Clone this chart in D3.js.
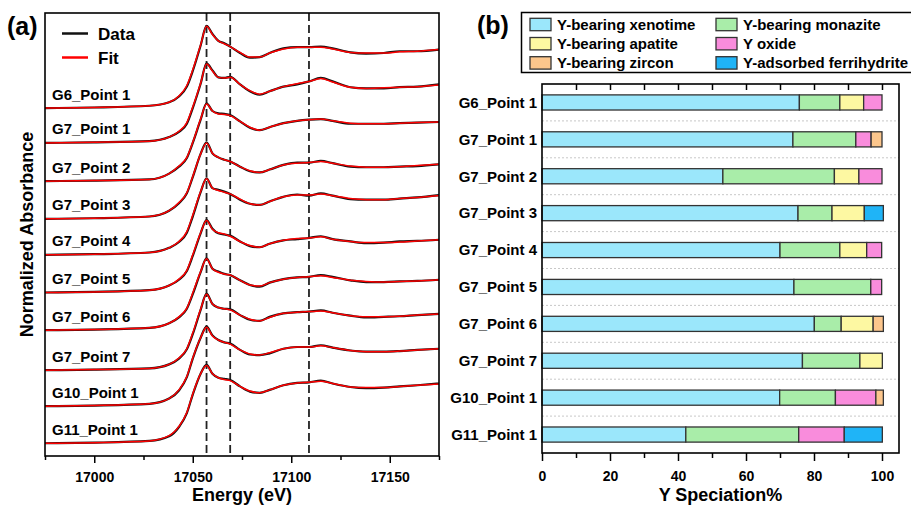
<!DOCTYPE html>
<html>
<head>
<meta charset="utf-8">
<script src="https://cdn.jsdelivr.net/npm/d3@7"></script>
<style>
  body { margin: 0; background: #fff; }
  text { font-family: Arial, "Liberation Sans", sans-serif; font-weight: bold; fill: #000; }
</style>
</head>
<body>
<div id="chart"></div>
<script>
// ---- panel (a) data: XANES spectra ----
const energy = [16975, 17000, 17028, 17038, 17043, 17047, 17050, 17054, 17057, 17060, 17063, 17066, 17069, 17074,
  17079, 17084, 17089, 17096, 17103, 17109, 17115, 17121, 17130, 17138, 17147, 17155, 17164, 17175];

const samples = ["G6_Point 1", "G7_Point 1", "G7_Point 2", "G7_Point 3", "G7_Point 4",
  "G7_Point 5", "G7_Point 6", "G7_Point 7", "G10_Point 1", "G11_Point 1"];

// vertical stacking offset of each spectrum
const offsets = [6.00, 5.40, 4.74, 4.09, 3.47, 2.82, 2.17, 1.48, 0.86, 0.22];

// reference energies marked with dashed lines
const markers = [17057, 17069, 17109];

const dataG6P1 = [0.00,0.01,0.04,0.10,0.20,0.37,0.64,1.08,1.42,1.28,1.16,1.12,1.06,0.95,0.87,0.88,0.95,1.03,1.05,1.05,1.06,1.03,0.96,0.94,0.95,0.98,0.98,1.01];
const fitG6P1  = [0.00,0.01,0.04,0.10,0.21,0.39,0.66,1.09,1.41,1.27,1.16,1.11,1.06,0.96,0.88,0.88,0.95,1.02,1.05,1.05,1.05,1.02,0.96,0.95,0.95,0.97,0.98,1.01];
const dataG7P1 = [0.00,0.01,0.03,0.10,0.19,0.33,0.60,1.02,1.37,1.25,1.13,1.12,1.14,1.01,0.89,0.83,0.89,0.97,1.01,1.06,1.12,1.06,0.96,0.94,0.94,0.96,0.97,1.01];
const fitG7P1  = [0.00,0.01,0.03,0.10,0.20,0.35,0.62,1.03,1.36,1.24,1.13,1.12,1.13,1.01,0.90,0.84,0.89,0.97,1.02,1.06,1.11,1.05,0.96,0.94,0.95,0.96,0.97,1.00];
const dataG7P2 = [0.00,0.01,0.03,0.13,0.25,0.40,0.66,1.06,1.34,1.21,1.17,1.16,1.14,1.03,0.92,0.88,0.93,1.00,1.04,1.06,1.07,1.04,0.99,0.99,0.99,1.00,1.01,1.02];
const fitG7P2  = [0.00,0.01,0.03,0.13,0.26,0.41,0.67,1.07,1.33,1.21,1.16,1.15,1.13,1.03,0.93,0.88,0.93,1.00,1.04,1.06,1.07,1.04,1.00,0.99,0.99,1.00,1.01,1.02];
const dataG7P3 = [0.00,0.01,0.04,0.14,0.27,0.44,0.72,1.12,1.32,1.13,1.06,1.02,0.99,0.90,0.82,0.80,0.85,0.93,0.97,0.97,1.00,0.96,0.90,0.89,0.89,0.90,0.91,0.94];
const fitG7P3  = [0.00,0.01,0.04,0.14,0.28,0.45,0.73,1.12,1.31,1.13,1.06,1.02,0.99,0.90,0.83,0.80,0.85,0.93,0.96,0.97,0.99,0.96,0.91,0.89,0.89,0.90,0.92,0.94];
const dataG7P4 = [0.00,0.01,0.04,0.12,0.22,0.38,0.66,1.08,1.32,1.15,1.12,1.09,1.05,0.95,0.88,0.86,0.92,1.00,1.04,1.02,1.06,1.02,0.96,0.95,0.95,0.97,0.99,1.03];
const fitG7P4  = [0.00,0.01,0.04,0.12,0.23,0.40,0.68,1.09,1.31,1.15,1.11,1.08,1.05,0.96,0.88,0.86,0.92,1.00,1.03,1.03,1.05,1.02,0.97,0.95,0.95,0.97,0.99,1.02];
const dataG7P5 = [0.00,0.01,0.04,0.12,0.22,0.37,0.63,1.02,1.25,1.10,1.02,1.00,0.98,0.88,0.80,0.78,0.84,0.90,0.92,0.94,0.97,0.92,0.88,0.85,0.86,0.88,0.89,0.91];
const fitG7P5  = [0.00,0.01,0.04,0.12,0.23,0.38,0.65,1.03,1.24,1.09,1.03,1.01,0.97,0.88,0.81,0.78,0.84,0.90,0.93,0.94,0.96,0.92,0.88,0.86,0.86,0.87,0.89,0.91];
const dataG7P6 = [0.00,0.01,0.04,0.12,0.22,0.37,0.62,1.00,1.24,1.06,1.01,0.97,0.95,0.86,0.78,0.75,0.82,0.88,0.91,0.92,0.95,0.92,0.86,0.83,0.83,0.84,0.85,0.87];
const fitG7P6  = [0.00,0.01,0.04,0.12,0.23,0.38,0.64,1.01,1.23,1.06,1.00,0.97,0.95,0.86,0.78,0.76,0.82,0.88,0.91,0.92,0.94,0.91,0.86,0.84,0.83,0.84,0.85,0.87];
const dataG7P7 = [0.00,0.01,0.03,0.10,0.20,0.36,0.62,1.04,1.32,1.14,1.08,1.06,1.05,0.95,0.87,0.85,0.92,0.98,1.00,1.01,1.03,0.99,0.94,0.91,0.92,0.93,0.95,0.97];
const fitG7P7  = [0.00,0.01,0.03,0.10,0.21,0.37,0.64,1.05,1.31,1.14,1.08,1.06,1.04,0.95,0.88,0.85,0.91,0.98,1.00,1.01,1.02,0.99,0.94,0.92,0.92,0.93,0.95,0.97];
const dataG10P1 = [0.00,0.01,0.04,0.13,0.27,0.50,0.82,1.18,1.37,1.22,1.14,1.10,1.08,0.97,0.89,0.88,0.91,0.99,1.02,1.02,1.05,1.01,0.96,0.94,0.94,0.95,0.97,0.99];
const fitG10P1  = [0.00,0.01,0.04,0.13,0.28,0.51,0.83,1.18,1.36,1.21,1.14,1.10,1.07,0.97,0.90,0.88,0.92,0.99,1.02,1.02,1.04,1.01,0.96,0.94,0.94,0.95,0.97,0.99];
const dataG11P1 = [0.00,0.01,0.04,0.12,0.28,0.52,0.84,1.20,1.35,1.20,1.13,1.11,1.09,0.98,0.89,0.87,0.92,1.00,1.04,1.05,1.08,1.03,0.97,0.95,0.96,0.98,1.00,1.03];
const fitG11P1  = [0.00,0.01,0.04,0.13,0.29,0.53,0.85,1.20,1.34,1.20,1.13,1.10,1.08,0.98,0.90,0.87,0.92,1.00,1.04,1.05,1.07,1.03,0.97,0.96,0.96,0.98,1.00,1.02];

const dataSpectra = [dataG6P1, dataG7P1, dataG7P2, dataG7P3, dataG7P4, dataG7P5, dataG7P6, dataG7P7, dataG10P1, dataG11P1];
const fitSpectra = [fitG6P1, fitG7P1, fitG7P2, fitG7P3, fitG7P4, fitG7P5, fitG7P6, fitG7P7, fitG10P1, fitG11P1];

// ---- panel (b) data: speciation % ----
const species = ["Y-bearing xenotime", "Y-bearing monazite", "Y-bearing apatite", "Y oxide", "Y-bearing zircon", "Y-adsorbed ferrihydrite"];
const speciesColors = ["#9be7fb", "#a9eda9", "#fdf8a2", "#f98cdc", "#fcc68c", "#1fb4f7"];
const xenotime     = [75.7, 73.8, 53.2, 75.3, 70.0, 74.1, 80.1, 76.6, 69.9, 42.3];
const monazite     = [11.9, 18.5, 32.8, 10.0, 17.6, 22.6,  7.9, 16.9, 16.4, 33.2];
const apatite      = [ 7.0,  0.0,  7.2,  9.5,  7.9,  0.0,  9.4,  6.6,  0.0,  0.0];
const yOxide       = [ 5.4,  4.5,  6.8,  0.0,  4.4,  3.2,  0.0,  0.0, 11.9, 13.4];
const zircon       = [ 0.0,  3.2,  0.0,  0.0,  0.0,  0.0,  3.0,  0.0,  2.2,  0.0];
const ferrihydrite = [ 0.0,  0.0,  0.0,  5.6,  0.0,  0.0,  0.0,  0.0,  0.0, 11.2];

const W = 911, H = 506;
const svg = d3.select("#chart").append("svg")
  .attr("width", W).attr("height", H);

// ================= panel (a) =================
const pa = { left: 45, right: 439, top: 13, bottom: 456 };

const x = d3.scaleLinear().domain([16975, 17175]).range([pa.left, pa.right]);
const y = d3.scaleLinear().domain([0, 7.64]).range([pa.bottom, pa.top]);

svg.append("clipPath").attr("id", "clipA")
  .append("rect")
    .attr("x", pa.left).attr("y", pa.top)
    .attr("width", pa.right - pa.left).attr("height", pa.bottom - pa.top);

const gA = svg.append("g").attr("clip-path", "url(#clipA)");

// dashed reference lines
gA.selectAll("line.marker")
  .data(markers)
  .join("line")
    .attr("class", "marker")
    .attr("x1", d => x(d)).attr("x2", d => x(d))
    .attr("y1", pa.top).attr("y2", pa.bottom)
    .attr("stroke", "#222")
    .attr("stroke-width", 1.8)
    .attr("stroke-dasharray", "8,4");

const line = d3.line()
  .x(d => x(d[0]))
  .y(d => y(d[1]))
  .curve(d3.curveMonotoneX);

const toPoints = (vals, i) => vals.map((v, j) => [energy[j], v + offsets[i]]);

gA.selectAll("path.data")
  .data(dataSpectra)
  .join("path")
    .attr("class", "data")
    .attr("d", (d, i) => line(toPoints(d, i)))
    .attr("fill", "none")
    .attr("stroke", "#111")
    .attr("stroke-width", 2.2);

gA.selectAll("path.fit")
  .data(fitSpectra)
  .join("path")
    .attr("class", "fit")
    .attr("d", (d, i) => line(toPoints(d, i)))
    .attr("fill", "none")
    .attr("stroke", "#ff0000")
    .attr("stroke-width", 1.5);

// sample labels above each spectrum
svg.selectAll("text.sampleA")
  .data(samples)
  .join("text")
    .attr("class", "sampleA")
    .attr("x", 52)
    .attr("y", (d, i) => y(offsets[i]) - 8.5)
    .style("font-size", "15px")
    .text(d => d);

// frame
svg.append("rect")
  .attr("x", pa.left).attr("y", pa.top)
  .attr("width", pa.right - pa.left).attr("height", pa.bottom - pa.top)
  .attr("fill", "none").attr("stroke", "#000").attr("stroke-width", 1.6);

// x axis, major + minor ticks
const axA = svg.append("g").attr("transform", `translate(0,${pa.bottom})`)
  .call(d3.axisBottom(x).tickValues([17000, 17050, 17100, 17150])
    .tickSize(7).tickPadding(9).tickFormat(d3.format("d")));
const axAminor = svg.append("g").attr("transform", `translate(0,${pa.bottom})`)
  .call(d3.axisBottom(x).tickValues([16975, 17025, 17075, 17125, 17175])
    .tickSize(4).tickFormat(""));
[axA, axAminor].forEach(g => {
  g.select(".domain").remove();
  g.selectAll("line").attr("stroke", "#000").attr("stroke-width", 1.5);
  g.selectAll("text").style("font-size", "14px").style("font-family", "Arial, 'Liberation Sans', sans-serif")
    .style("font-weight", "bold").attr("fill", "#000");
});

svg.append("text")
  .attr("x", (pa.left + pa.right) / 2).attr("y", 501)
  .attr("text-anchor", "middle")
  .style("font-size", "18px")
  .text("Energy (eV)");

svg.append("text")
  .attr("transform", `translate(33,${(pa.top + pa.bottom) / 2}) rotate(-90)`)
  .attr("text-anchor", "middle")
  .style("font-size", "18px")
  .text("Normalized Absorbance");

// data / fit legend
const legA = [{ name: "Data", color: "#111" }, { name: "Fit", color: "#ff0000" }];
const lgA = svg.selectAll("g.legA")
  .data(legA)
  .join("g")
    .attr("class", "legA")
    .attr("transform", (d, i) => `translate(62,${33.5 + i * 24})`);
lgA.append("line").attr("x1", 0).attr("x2", 26)
  .attr("stroke", d => d.color).attr("stroke-width", 2.5);
lgA.append("text").attr("x", 36).attr("dy", "0.36em")
  .style("font-size", "17px").text(d => d.name);

svg.append("text").attr("x", 7).attr("y", 35)
  .style("font-size", "25px").text("(a)");

// ================= panel (b) =================
const pb = { left: 542, right: 899, top: 84, bottom: 453 };

const xb = d3.scaleLinear().domain([0, 105]).range([pb.left, pb.right]);
const yb = d3.scaleBand().domain(samples).range([pb.top, pb.bottom])
  .paddingInner(0.59).paddingOuter(0.295);

const table = samples.map((s, i) => ({
  sample: s,
  "Y-bearing xenotime": xenotime[i],
  "Y-bearing monazite": monazite[i],
  "Y-bearing apatite": apatite[i],
  "Y oxide": yOxide[i],
  "Y-bearing zircon": zircon[i],
  "Y-adsorbed ferrihydrite": ferrihydrite[i]
}));
const stacked = d3.stack().keys(species)(table);
const color = d3.scaleOrdinal().domain(species).range(speciesColors);

// dotted separators between bars
const step = yb.step();
svg.selectAll("line.sep")
  .data(samples.slice(1))
  .join("line")
    .attr("class", "sep")
    .attr("x1", pb.left).attr("x2", pb.right)
    .attr("y1", d => yb(d) - (step - yb.bandwidth()) / 2)
    .attr("y2", d => yb(d) - (step - yb.bandwidth()) / 2)
    .attr("stroke", "#c8c8c8").attr("stroke-width", 1)
    .attr("stroke-dasharray", "2,2");

svg.append("g").selectAll("g")
  .data(stacked)
  .join("g")
    .attr("fill", d => color(d.key))
  .selectAll("rect")
  .data(d => d.filter(s => s[1] - s[0] > 0))
  .join("rect")
    .attr("x", d => xb(d[0]))
    .attr("y", d => yb(d.data.sample))
    .attr("width", d => xb(d[1]) - xb(d[0]))
    .attr("height", yb.bandwidth())
    .attr("stroke", "#333")
    .attr("stroke-width", 1.3);

// category labels
svg.selectAll("text.sampleB")
  .data(samples)
  .join("text")
    .attr("class", "sampleB")
    .attr("x", 537)
    .attr("y", d => yb(d) + yb.bandwidth() / 2)
    .attr("dy", "0.35em")
    .attr("text-anchor", "end")
    .style("font-size", "15px")
    .text(d => d);

svg.append("rect")
  .attr("x", pb.left).attr("y", pb.top)
  .attr("width", pb.right - pb.left).attr("height", pb.bottom - pb.top)
  .attr("fill", "none").attr("stroke", "#000").attr("stroke-width", 1.6);

const axB = svg.append("g").attr("transform", `translate(0,${pb.bottom})`)
  .call(d3.axisBottom(xb).tickValues([0, 20, 40, 60, 80, 100]).tickSize(8).tickPadding(10));
const axBminor = svg.append("g").attr("transform", `translate(0,${pb.bottom})`)
  .call(d3.axisBottom(xb).tickValues([10, 30, 50, 70, 90]).tickSize(5).tickFormat(""));
const axBtop = svg.append("g").attr("transform", `translate(0,${pb.top})`)
  .call(d3.axisTop(xb).tickValues(d3.range(10, 101, 10)).tickSize(-6).tickFormat(""));
[axB, axBminor, axBtop].forEach(g => {
  g.select(".domain").remove();
  g.selectAll("line").attr("stroke", "#000").attr("stroke-width", 1.5);
  g.selectAll("text").style("font-size", "14px").style("font-family", "Arial, 'Liberation Sans', sans-serif")
    .style("font-weight", "bold").attr("fill", "#000");
});

svg.append("text")
  .attr("x", (pb.left + pb.right) / 2).attr("y", 501)
  .attr("text-anchor", "middle")
  .style("font-size", "18px")
  .text("Y Speciation%");

// species legend, two columns
svg.append("rect")
  .attr("x", 521.5).attr("y", 12.5).attr("width", 395).attr("height", 60)
  .attr("fill", "#fff").attr("stroke", "#000").attr("stroke-width", 1.5);

const lgB = svg.selectAll("g.legB")
  .data(species)
  .join("g")
    .attr("class", "legB")
    .attr("transform", (d, i) => `translate(${i % 2 === 0 ? 530 : 716},${24.5 + Math.floor(i / 2) * 19.2})`);
lgB.append("rect")
  .attr("x", 0).attr("y", -6.2).attr("width", 21).attr("height", 12.4)
  .attr("fill", d => color(d)).attr("stroke", "#333").attr("stroke-width", 1.3);
lgB.append("text").attr("x", 27).attr("dy", "0.36em")
  .style("font-size", "15px").text(d => d);

svg.append("text").attr("x", 477).attr("y", 34)
  .style("font-size", "25px").text("(b)");
</script>
</body>
</html>
